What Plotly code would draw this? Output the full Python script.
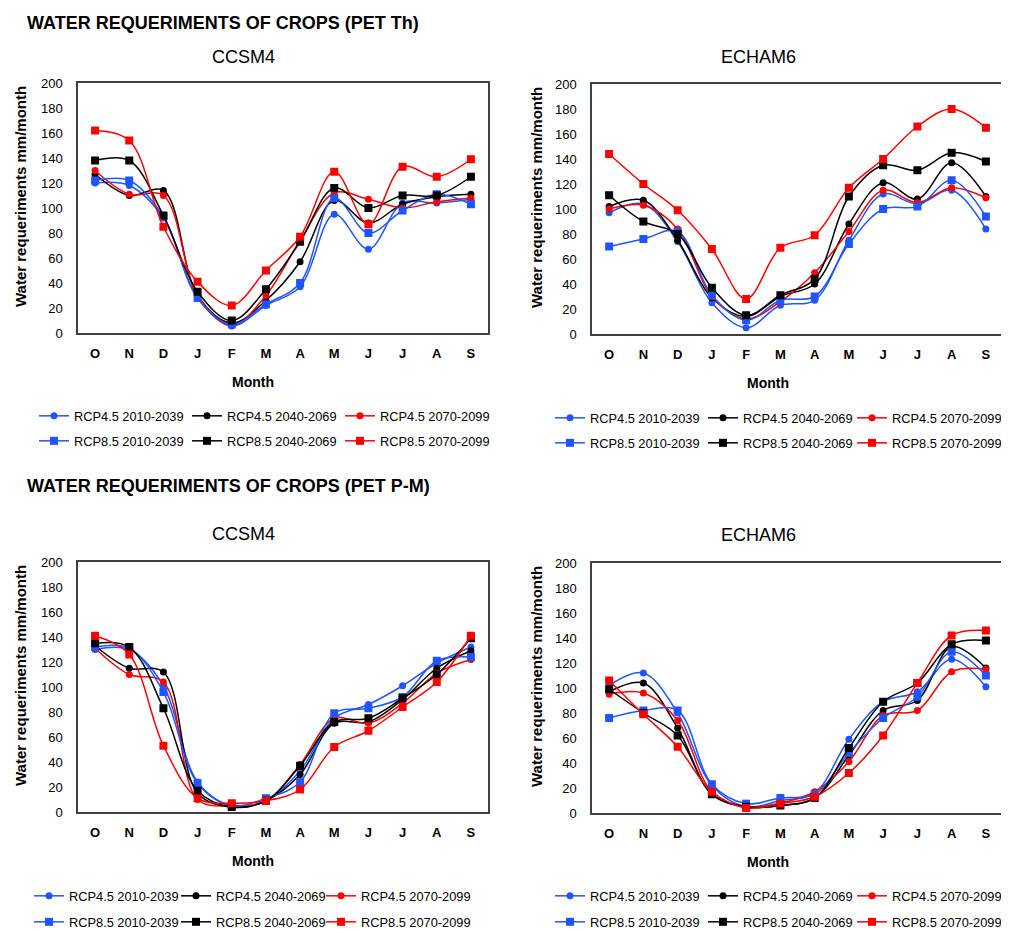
import plotly.graph_objects as go

# ---------------- data ----------------
month_labels = ["O", "N", "D", "J", "F", "M", "A", "M", "J", "J", "A", "S"]
month_pos = list(range(12))

series_names = ["RCP4.5 2010-2039", "RCP4.5 2040-2069", "RCP4.5 2070-2099",
                "RCP8.5 2010-2039", "RCP8.5 2040-2069", "RCP8.5 2070-2099"]

# PET Th - CCSM4
th_ccsm4_r45_2010 = [120, 118, 92, 28, 5.6, 22, 37, 95, 67, 104, 104, 107]
th_ccsm4_r45_2040 = [127, 110, 114, 30, 8, 26, 57, 106, 88, 103, 109, 111]
th_ccsm4_r45_2070 = [130, 111, 110, 30, 6, 30, 74, 112, 107, 100, 105, 108]
th_ccsm4_r85_2010 = [122, 122, 93, 28, 7, 23, 40, 108, 80, 98, 111, 103]
th_ccsm4_r85_2040 = [138, 138, 94, 33, 10, 35, 73, 116, 100, 110, 110, 125]
th_ccsm4_r85_2070 = [162, 154, 85, 41, 22, 50, 77, 129, 87, 133, 125, 139]

# PET Th - ECHAM6
th_echam6_r45_2010 = [97, 104, 74, 25, 5, 23, 27, 75, 112, 104, 115, 84]
th_echam6_r45_2040 = [102, 107, 75, 29, 14, 30, 40, 88, 121, 108, 137, 110]
th_echam6_r45_2070 = [100, 103, 84, 30, 12, 26, 49, 82, 115, 105, 117, 109]
th_echam6_r85_2010 = [70, 76, 82, 31, 11, 27, 30, 72, 100, 102, 123, 94]
th_echam6_r85_2040 = [111, 90, 80, 37, 15, 31, 44, 110, 135, 131, 145, 138]
th_echam6_r85_2070 = [144, 120, 99, 68, 28, 69, 79, 117, 140, 166, 180, 165]

# PET P-M - CCSM4
pm_ccsm4_r45_2010 = [130, 130, 101, 24, 5, 9, 33, 75, 86, 101, 119, 132]
pm_ccsm4_r45_2040 = [133, 115, 112, 15, 4, 9, 30, 71, 72, 90, 115, 129]
pm_ccsm4_r45_2070 = [131, 110, 104, 10, 5, 9, 38, 75, 71, 87, 111, 122]
pm_ccsm4_r85_2010 = [132, 131, 96, 23, 5, 11, 24, 79, 83, 92, 121, 124]
pm_ccsm4_r85_2040 = [135, 132, 83, 17, 4, 9, 37, 72, 75, 91, 110, 139]
pm_ccsm4_r85_2070 = [141, 126, 53, 11, 7, 9, 18, 52, 65, 84, 104, 141]

# PET P-M - ECHAM6
pm_echam6_r45_2010 = [102, 112, 80, 22, 5, 10, 16, 59, 89, 97, 123, 101]
pm_echam6_r45_2040 = [97, 104, 68, 15, 5, 6, 12, 46, 82, 90, 133, 116]
pm_echam6_r45_2070 = [95, 96, 74, 17, 5, 8, 17, 41, 78, 82, 113, 115]
pm_echam6_r85_2010 = [76, 82, 82, 23, 7.5, 12, 15, 48, 76, 93, 129, 110]
pm_echam6_r85_2040 = [99, 80, 62, 15, 5, 6, 12, 52, 89, 104, 135, 138]
pm_echam6_r85_2070 = [106, 79, 53, 17, 4, 7.5, 13, 32, 62, 104, 142, 146]

y_ticks = [0, 20, 40, 60, 80, 100, 120, 140, 160, 180, 200]

panels = [
    [th_ccsm4_r45_2010, th_ccsm4_r45_2040, th_ccsm4_r45_2070,
     th_ccsm4_r85_2010, th_ccsm4_r85_2040, th_ccsm4_r85_2070],
    [th_echam6_r45_2010, th_echam6_r45_2040, th_echam6_r45_2070,
     th_echam6_r85_2010, th_echam6_r85_2040, th_echam6_r85_2070],
    [pm_ccsm4_r45_2010, pm_ccsm4_r45_2040, pm_ccsm4_r45_2070,
     pm_ccsm4_r85_2010, pm_ccsm4_r85_2040, pm_ccsm4_r85_2070],
    [pm_echam6_r45_2010, pm_echam6_r45_2040, pm_echam6_r45_2070,
     pm_echam6_r85_2010, pm_echam6_r85_2040, pm_echam6_r85_2070],
]

# ---------------- styling ----------------
W, H = 1009, 929
OFF = 8  # the page body margin offsets the figure by 8 px
BLUE = "#1f55ff"
colors = [BLUE, "#000000", "#ff0000", BLUE, "#000000", "#ff0000"]
symbols = ["circle", "circle", "circle", "square", "square", "square"]
msizes = [7, 7, 7, 8, 8, 8]

ARIAL = "Arial, Liberation Sans, sans-serif"

def px_x(x):
    return (x - OFF) / W

def px_y(y):
    return 1 - (y - OFF) / H

# plot boxes in page pixels: (left, top, right, bottom)
boxes = [(78, 83, 488, 333), (592, 84, 1003, 334),
         (78, 562, 488, 812), (592, 563, 1003, 813)]

# legend entries: per panel, column line-start x and row centre y
leg_cols = [(45, 198, 351), (561, 714, 863), (40, 187, 332), (561, 714, 863)]
leg_rowy = [(417, 442), (419, 444), (897, 923), (897, 923)]

fig = go.Figure()

layout = dict(
    width=W, height=H,
    margin=dict(l=0, r=0, t=0, b=0, autoexpand=False),
    paper_bgcolor="white", plot_bgcolor="white",
    showlegend=True,
)

for p, data in enumerate(panels):
    xa = "x" if p == 0 else f"x{p+1}"
    ya = "y" if p == 0 else f"y{p+1}"
    for i, vals in enumerate(data):
        k = 6 * p + i + 1
        leg = "legend" if k == 1 else f"legend{k}"
        fig.add_trace(go.Scatter(
            x=month_pos, y=vals, name=series_names[i],
            mode="lines+markers",
            line=dict(color=colors[i], width=1.5, shape="spline", smoothing=1.0),
            marker=dict(symbol=symbols[i], size=msizes[i], color=colors[i]),
            xaxis=xa, yaxis=ya, legend=leg,
        ))
        lx = leg_cols[p][i % 3]
        ly = leg_rowy[p][i // 3]
        layout[leg] = dict(
            orientation="h", x=px_x(lx - 11), y=px_y(ly - 1),
            xanchor="left", yanchor="middle", xref="paper", yref="paper",
            entrywidth=118, entrywidthmode="pixels",
            font=dict(family=ARIAL, size=12.8, color="black"),
            bgcolor="rgba(0,0,0,0)", borderwidth=0, itemwidth=30,
        )

for p, (l, t, r, b) in enumerate(boxes):
    xk = "xaxis" if p == 0 else f"xaxis{p+1}"
    yk = "yaxis" if p == 0 else f"yaxis{p+1}"
    xa_anchor = "y" if p == 0 else f"y{p+1}"
    ya_anchor = "x" if p == 0 else f"x{p+1}"
    layout[xk] = dict(
        domain=[px_x(l), px_x(r)], anchor=xa_anchor,
        range=[-0.5, 11.5], tickvals=month_pos, ticktext=month_labels,
        showgrid=False, zeroline=False, showline=True, mirror=True,
        linecolor="#404040", linewidth=1.5, ticks="",
        tickfont=dict(family=ARIAL, size=13, color="black", weight="bold"),
        ticklabelstandoff=8, automargin=False,
    )
    layout[yk] = dict(
        domain=[px_y(b), px_y(t)], anchor=ya_anchor,
        range=[0, 200], tickvals=y_ticks,
        showgrid=False, zeroline=False, showline=True, mirror=True,
        linecolor="#404040", linewidth=1.5, ticks="",
        tickfont=dict(family=ARIAL, size=13, color="black"),
        ticklabelstandoff=11, automargin=False,
    )

fig.update_layout(**layout)

ann = []
def add_text(text, x, y, size, bold=False, xanchor="center", angle=0):
    ann.append(dict(
        text=f"<b>{text}</b>" if bold else text, x=px_x(x), y=px_y(y),
        xref="paper", yref="paper", xanchor=xanchor, yanchor="middle",
        showarrow=False, textangle=angle,
        font=dict(family=ARIAL, size=size, color="black"),
    ))

add_text("WATER REQUERIMENTS OF CROPS (PET Th)", 25, 23, 18, True, "left")
add_text("WATER REQUERIMENTS OF CROPS (PET P-M)", 25, 486, 18, True, "left")
add_text("CCSM4", 243, 57, 18)
add_text("ECHAM6", 758, 57, 18)
add_text("CCSM4", 243, 534, 18)
add_text("ECHAM6", 758, 535, 18)
for (mx, my) in [(253, 382), (768, 383), (253, 861), (768, 862)]:
    add_text("Month", mx, my, 14, True)
for (tx, ty) in [(20, 197), (536, 198), (20, 676), (536, 677)]:
    add_text("Water requeriments mm/month", tx, ty, 15, True, angle=-90)

fig.update_layout(annotations=ann)

fig.write_html("out.html")
